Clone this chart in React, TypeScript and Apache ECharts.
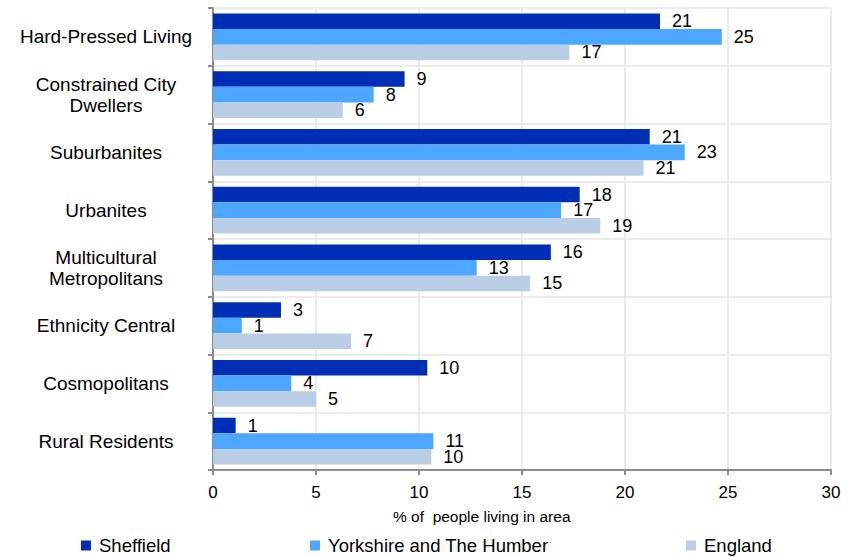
import React, { useEffect, useRef } from "react";
import * as echarts from "echarts";

const categories = [
  "Hard-Pressed Living",
  "Constrained City\nDwellers",
  "Suburbanites",
  "Urbanites",
  "Multicultural\nMetropolitans",
  "Ethnicity Central",
  "Cosmopolitans",
  "Rural Residents",
];
const seriesNames = ["Sheffield", "Yorkshire and The Humber", "England"];
const sheffield = [21.7, 9.3, 21.2, 17.8, 16.4, 3.3, 10.4, 1.1];
const yorkshire = [24.7, 7.8, 22.9, 16.9, 12.8, 1.4, 3.8, 10.7];
const england = [17.3, 6.3, 20.9, 18.8, 15.4, 6.7, 5.0, 10.6];
const sheffieldLabels = [21, 9, 21, 18, 16, 3, 10, 1];
const yorkshireLabels = [25, 8, 23, 17, 13, 1, 4, 11];
const englandLabels = [17, 6, 21, 19, 15, 7, 5, 10];
const xTicks = [0, 5, 10, 15, 20, 25, 30];
const axisTitle = "% of  people living in area";

const FONT = "'Liberation Sans', Arial, sans-serif";
const colors = ["#002EB4", "#4DA7FF", "#B9CDE5"];

export default function App() {
  const ref = useRef<HTMLDivElement>(null);
  useEffect(() => {
    if (!ref.current) return;
    const chart = echarts.init(ref.current, null, { renderer: "svg" });
    const values = [sheffield, yorkshire, england];
    const labels = [sheffieldLabels, yorkshireLabels, englandLabels];
    const legendLefts = [81, 310, 686];
    chart.setOption({
      animation: false,
      textStyle: { fontFamily: FONT },
      grid: { left: 213, right: 21, top: 8, bottom: 87, containLabel: false },
      legend: seriesNames.map((n, i) => ({
        data: [n],
        left: legendLefts[i],
        top: 536,
        padding: 0,
        icon: "rect",
        itemWidth: 10,
        itemHeight: 10,
        selectedMode: false,
        textStyle: { fontSize: 18.5, color: "#000", fontFamily: FONT, padding: [0, 0, 0, 3] },
      })),
      xAxis: {
        type: "value",
        min: xTicks[0],
        max: xTicks[xTicks.length - 1],
        interval: 5,
        axisLine: { show: true, lineStyle: { color: "#8C8C8C", width: 2 } },
        axisTick: { show: true, length: 5, lineStyle: { color: "#8C8C8C", width: 2 } },
        axisLabel: { fontSize: 17, color: "#000", margin: 14, fontFamily: FONT },
        splitLine: { show: true, lineStyle: { color: "#EBEBEB", width: 2 } },
      },
      yAxis: {
        type: "category",
        data: categories,
        inverse: true,
        axisLine: { show: true, lineStyle: { color: "#8C8C8C", width: 2 } },
        axisTick: { show: true, length: 5, lineStyle: { color: "#8C8C8C", width: 2 } },
        axisLabel: {
          fontSize: 19,
          color: "#000",
          align: "center",
          margin: 107,
          lineHeight: 21,
          fontFamily: FONT,
        },
        splitLine: { show: true, lineStyle: { color: "#EBEBEB", width: 2 } },
      },
      graphic: [
        {
          type: "text",
          left: 393,
          top: 508,
          style: { text: axisTitle, fontSize: 15.5, fill: "#000", fontFamily: FONT },
        },
      ],
      series: seriesNames.map((n, i) => ({
        name: n,
        type: "bar",
        data: values[i],
        barGap: "0%",
        barCategoryGap: "19%",
        itemStyle: { color: colors[i] },
        label: {
          show: true,
          position: "right",
          distance: 12,
          fontSize: 18,
          color: "#000",
          fontFamily: FONT,
          formatter: (p: any) => String(labels[i][p.dataIndex]),
        },
      })),
    });
    return () => chart.dispose();
  }, []);
  return (
    <div
      ref={ref}
      style={{ position: "absolute", left: 0, top: 0, width: 852, height: 557 }}
    />
  );
}
